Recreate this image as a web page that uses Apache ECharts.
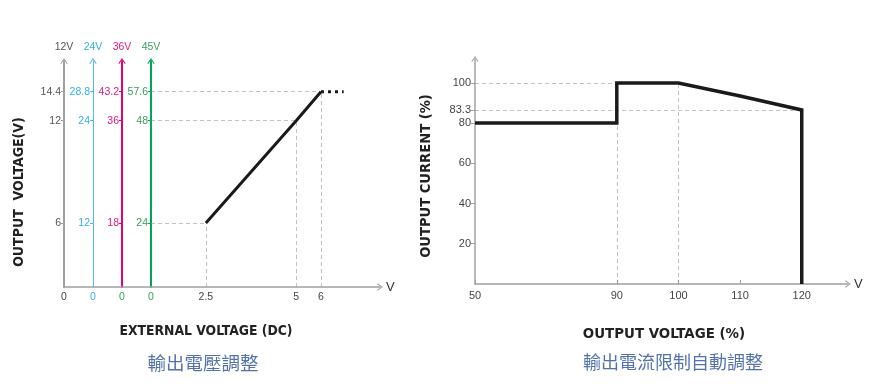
<!DOCTYPE html>
<html><head><meta charset="utf-8">
<script src="https://cdn.jsdelivr.net/npm/echarts@6/dist/echarts.min.js"></script>
<style>html,body{margin:0;padding:0;background:#fff}#c{width:881px;height:388px}</style>
</head><body><div id="c"></div>
<script>
// ---------- data: left chart (output voltage vs external voltage) ----------
const modelNames = ['12V', '24V', '36V', '45V'];
const modelMultipliers = [1, 2, 3, 4];
const outputTicks12 = [6, 12, 14.4];
const outputTicks24 = [12, 24, 28.8];
const outputTicks36 = [18, 36, 43.2];
const outputTicks48 = [24, 48, 57.6];
const externalTicks = [0, 2.5, 5, 6];
const adjustX = [2.5, 5, 6];
const adjustY = [6, 12, 14.4];
const extensionEndX = 6.4;

// ---------- data: right chart (output current vs output voltage) ----------
const voltageTicks = [50, 90, 100, 110, 120];
const currentTicks = [20, 40, 60, 80, 83.3, 100];
const limitX = [50, 90, 90, 100, 110, 120, 120];
const limitY = [80, 80, 100, 100, 92, 83.3, 0];
const currentGuideLevels = [100, 83.3];
const currentGuideEnds = [90, 120];
const voltageGuideX = [90, 100];
const voltageGuideTops = [80, 100];

// ---------- styles ----------
const FONT = "'Liberation Sans', Arial, sans-serif";
const FONT_C = "'DejaVu Sans Condensed', 'Liberation Sans', sans-serif";
const CJK = "'Noto Sans CJK TC', 'Noto Sans CJK SC', sans-serif";
const CHEVRON = 'path://M0,9 L6,0 L12,9 L10.6,9.8 L6,2.8 L1.4,9.8 Z';
const modelColors = ['#a0a0a0', '#4fbbe9', '#e4007c', '#00a653'];
const labelColors = ['#555555', '#35aee3', '#e0197f', '#3c9c5c'];
const zeroColors = ['#444444', '#35aee3', '#3c9c5c', '#3c9c5c'];
const lineWidths = [2, 1, 2, 2];
const GL = { left: 64, top: 61, width: 316, height: 226 };
const GR = { left: 475, top: 59, width: 373, height: 225 };
const AX_STEP = 29;
const yBreaks = [[0.5, 5.5, 2.765], [12.2, 14.2, 1.306]];
const yMax = 16.2;
const yTickSets = [outputTicks12, outputTicks24, outputTicks36, outputTicks48];
const GUIDE = { color: '#858585', width: 1, type: [4, 3] };
const ARROW_LINE = (color, width) => ({ show: true, onZero: false, lineStyle: { color: color, width: width },
  symbol: ['none', CHEVRON], symbolSize: [8, 6] });
const HIDDEN = { axisTick: { show: false }, axisLabel: { show: false }, splitLine: { show: false } };

const chart = echarts.init(document.getElementById('c'));

// scale axes (with breaks) for the four models
const leftYAxes = modelNames.map((name, i) => {
  const m = modelMultipliers[i];
  return {
    type: 'value', gridIndex: 0, position: 'left', offset: -i * AX_STEP,
    min: 0, max: yMax * m,
    breaks: yBreaks.map(b => ({ start: b[0] * m, end: b[1] * m, gap: b[2] * m })),
    breakArea: { show: false },
    axisLine: { show: false, onZero: false },
    axisTick: { show: true, length: 3, customValues: yTickSets[i], lineStyle: { color: modelColors[i] } },
    axisLabel: { customValues: yTickSets[i], color: labelColors[i], fontSize: 10.5, fontFamily: FONT, margin: 3 },
    splitLine: { show: false }
  };
});
// plain axes that only draw the continuous axis lines, arrows and the model names
const leftYLines = modelNames.map((name, i) => Object.assign({
  type: 'value', gridIndex: 0, position: 'left', offset: -i * AX_STEP, min: 0, max: 1,
  name: name, nameLocation: 'end', nameGap: 8,
  nameTextStyle: { color: labelColors[i], fontSize: 10.5, fontFamily: FONT, align: 'center' },
  axisLine: ARROW_LINE(modelColors[i], lineWidths[i])
}, HIDDEN));

const option = {
  animation: false,
  backgroundColor: '#ffffff',
  grid: [Object.assign({}, GL), Object.assign({}, GR)],
  xAxis: [
    {
      type: 'value', gridIndex: 0, position: 'bottom', min: 0, max: 7.04,
      breaks: [{ start: 2.7, end: 4.8, gap: 1.191 }, { start: 5.05, end: 5.95, gap: 0.337 }],
      breakArea: { show: false },
      axisLine: { show: false, onZero: false },
      axisTick: { show: false },
      axisLabel: { customValues: externalTicks, color: '#444', fontSize: 10.5, fontFamily: FONT, margin: 5 },
      splitLine: { show: false }
    },
    {
      type: 'value', gridIndex: 1, position: 'bottom', min: 50, max: 127.5,
      breaks: [{ start: 51, end: 89, gap: 21 }],
      breakArea: { show: false },
      axisLine: { show: false, onZero: false },
      axisTick: { show: true, inside: true, length: 4, customValues: voltageTicks, lineStyle: { color: '#a0a0a0' } },
      axisLabel: { customValues: voltageTicks, color: '#444', fontSize: 11, fontFamily: FONT, margin: 6 },
      splitLine: { show: false }
    },
    Object.assign({ type: 'value', gridIndex: 0, position: 'bottom', min: 0, max: 1, axisLine: ARROW_LINE('#a0a0a0', 1.5),
      name: 'V', nameLocation: 'end', nameGap: 6, nameTextStyle: { fontSize: 13, color: '#333', fontFamily: FONT } }, HIDDEN),
    Object.assign({ type: 'value', gridIndex: 1, position: 'bottom', min: 0, max: 1, axisLine: ARROW_LINE('#a0a0a0', 1.5),
      name: 'V', nameLocation: 'end', nameGap: 6, nameTextStyle: { fontSize: 13, color: '#333', fontFamily: FONT } }, HIDDEN)
  ],
  yAxis: leftYAxes.concat([
    {
      type: 'value', gridIndex: 1, position: 'left', min: 0, max: 111.9,
      breaks: [{ start: 80.5, end: 83, gap: 5.66 }, { start: 84, end: 99, gap: 11.7 }],
      breakArea: { show: false },
      axisLine: { show: false, onZero: false },
      axisTick: { show: true, length: 4, customValues: currentTicks, lineStyle: { color: '#a0a0a0' } },
      axisLabel: { customValues: currentTicks, color: '#444', fontSize: 11, fontFamily: FONT, margin: 4 },
      splitLine: { show: false }
    }
  ]).concat(leftYLines).concat([
    Object.assign({ type: 'value', gridIndex: 1, position: 'left', min: 0, max: 1,
      axisLine: ARROW_LINE('#a0a0a0', 1.5) }, HIDDEN)
  ]),
  series: [],
  graphic: [
    { type: 'text', x: 19, y: 192, rotation: Math.PI / 2,
      style: { text: 'OUTPUT  VOLTAGE(V)', align: 'center', verticalAlign: 'middle', fill: '#222', font: "bold 14px " + FONT_C } },
    { type: 'text', x: 206, y: 331,
      style: { text: 'EXTERNAL VOLTAGE (DC)', align: 'center', verticalAlign: 'middle', fill: '#222', font: "bold 13.8px " + FONT_C } },
    { type: 'text', x: 203, y: 363,
      style: { text: '輸出電壓調整', align: 'center', verticalAlign: 'middle', fill: '#5373aa', font: "18.5px " + CJK } },
    { type: 'text', x: 426, y: 176, rotation: Math.PI / 2,
      style: { text: 'OUTPUT CURRENT (%)', align: 'center', verticalAlign: 'middle', fill: '#222', font: "bold 14.6px " + FONT_C } },
    { type: 'text', x: 664, y: 334,
      style: { text: 'OUTPUT VOLTAGE (%)', align: 'center', verticalAlign: 'middle', fill: '#222', font: "bold 14.9px " + FONT_C } },
    { type: 'text', x: 673, y: 362,
      style: { text: '輸出電流限制自動調整', align: 'center', verticalAlign: 'middle', fill: '#5373aa', font: "18px " + CJK } }
  ].concat(modelNames.slice(1).map((n, k) => ({
    type: 'text', x: GL.left + (k + 1) * AX_STEP, y: 297,
    style: { text: '0', align: 'center', verticalAlign: 'middle', fill: zeroColors[k + 1], font: "10.5px " + FONT }
  })))
};

chart.setOption(option);

// horizontal guides start at the rightmost (4th) vertical axis
const guideStart = chart.convertFromPixel({ gridIndex: 0 }, [GL.left + 3 * AX_STEP, GL.top])[0];

const leftGuides = [];
adjustX.forEach((x, i) => {
  leftGuides.push({ coords: [[x, 0], [x, adjustY[i]]] });
  leftGuides.push({ coords: [[guideStart, adjustY[i]], [x, adjustY[i]]] });
});
const rightGuides = [];
currentGuideLevels.forEach((y, i) => rightGuides.push({ coords: [[limitX[0], y], [currentGuideEnds[i], y]] }));
voltageGuideX.forEach((x, i) => rightGuides.push({ coords: [[x, 0], [x, voltageGuideTops[i]]] }));

const lastX = adjustX[adjustX.length - 1], lastY = adjustY[adjustY.length - 1];

chart.setOption({
  series: [
    { type: 'lines', coordinateSystem: 'cartesian2d', xAxisIndex: 0, yAxisIndex: 0, silent: true, z: 1,
      lineStyle: GUIDE, data: leftGuides },
    { type: 'line', xAxisIndex: 0, yAxisIndex: 0, symbol: 'none', z: 3,
      lineStyle: { color: '#1a1a1a', width: 3 },
      data: adjustX.map((x, i) => [x, adjustY[i]]) },
    { type: 'line', xAxisIndex: 0, yAxisIndex: 0, symbol: 'none', z: 3,
      lineStyle: { color: '#1a1a1a', width: 3, type: [3, 4] },
      data: [[lastX, lastY], [extensionEndX, lastY]] },
    { type: 'lines', coordinateSystem: 'cartesian2d', xAxisIndex: 1, yAxisIndex: 4, silent: true, z: 1,
      lineStyle: GUIDE, data: rightGuides },
    { type: 'line', xAxisIndex: 1, yAxisIndex: 4, symbol: 'none', z: 3,
      lineStyle: { color: '#1a1a1a', width: 3.5, join: 'miter' },
      data: limitX.map((x, i) => [x, limitY[i]]) }
  ]
});
</script>
</body></html>
